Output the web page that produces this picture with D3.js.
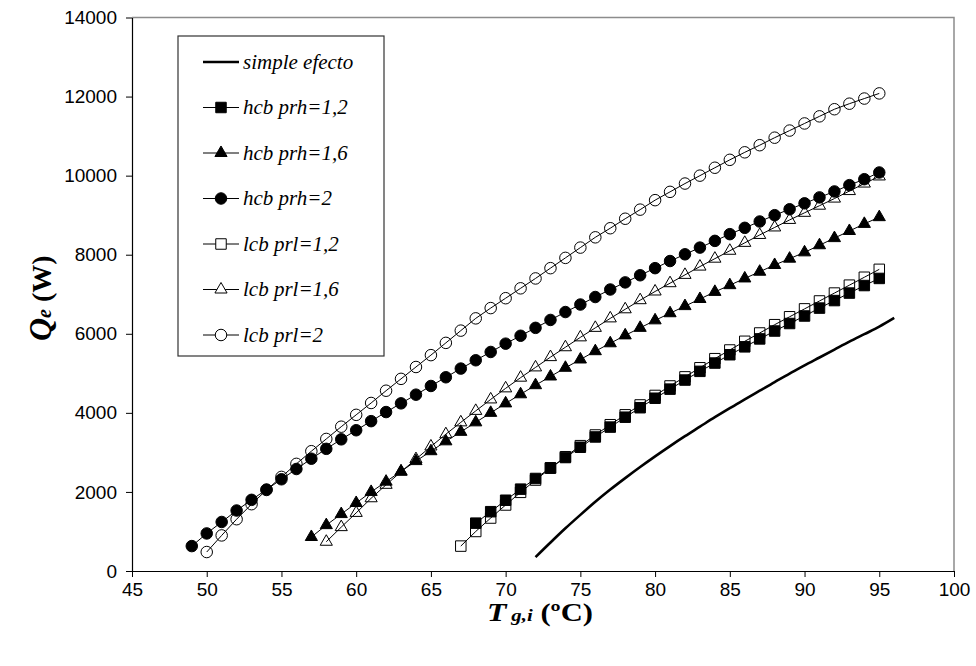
<!DOCTYPE html>
<html>
<head>
<meta charset="utf-8">
<script src="https://cdn.jsdelivr.net/npm/d3@7"></script>
<style>
  html, body { margin: 0; padding: 0; background: #fff; }
  svg { display: block; }
  .tick text { font-family: "Liberation Sans", Arial, sans-serif; font-size: 19px; fill: #000; }
</style>
</head>
<body>
<div id="chart"></div>
<script>
// x axis ticks / y axis ticks
const xTicks = [45, 50, 55, 60, 65, 70, 75, 80, 85, 90, 95, 100];
const yTicks = [0, 2000, 4000, 6000, 8000, 10000, 12000, 14000];

// simple efecto (line only)
const simpleT = [72, 73, 74, 75, 76, 77, 78, 79, 80, 81, 82, 83, 84, 85, 86, 87, 88, 89, 90, 91, 92, 93, 94, 95, 96];
const simpleQ = [350, 720, 1080, 1420, 1750, 2060, 2350, 2630, 2900, 3160, 3410, 3650, 3890, 4120, 4340, 4560, 4780, 4990, 5200, 5400, 5600, 5800, 5990, 6180, 6400];

// hcb prh=1,2
const hcb12T = [68, 69, 70, 71, 72, 73, 74, 75, 76, 77, 78, 79, 80, 81, 82, 83, 84, 85, 86, 87, 88, 89, 90, 91, 92, 93, 94, 95];
const hcb12Q = [1210, 1500, 1790, 2070, 2340, 2610, 2870, 3130, 3390, 3640, 3890, 4130, 4370, 4600, 4830, 5050, 5260, 5470, 5670, 5870, 6070, 6260, 6450, 6650, 6840, 7030, 7220, 7400];

// hcb prh=1,6
const hcb16T = [57, 58, 59, 60, 61, 62, 63, 64, 65, 66, 67, 68, 69, 70, 71, 72, 73, 74, 75, 76, 77, 78, 79, 80, 81, 82, 83, 84, 85, 86, 87, 88, 89, 90, 91, 92, 93, 94, 95];
const hcb16Q = [860, 1160, 1440, 1720, 2000, 2260, 2520, 2780, 3030, 3280, 3520, 3760, 4000, 4240, 4470, 4700, 4920, 5140, 5350, 5560, 5760, 5960, 6150, 6340, 6520, 6700, 6880, 7060, 7230, 7400, 7570, 7740, 7900, 8060, 8240, 8420, 8600, 8780, 8950];

// hcb prh=2
const hcb2T = [49, 50, 51, 52, 53, 54, 55, 56, 57, 58, 59, 60, 61, 62, 63, 64, 65, 66, 67, 68, 69, 70, 71, 72, 73, 74, 75, 76, 77, 78, 79, 80, 81, 82, 83, 84, 85, 86, 87, 88, 89, 90, 91, 92, 93, 94, 95];
const hcb2Q = [630, 950, 1240, 1530, 1800, 2060, 2320, 2580, 2840, 3090, 3330, 3560, 3790, 4020, 4240, 4460, 4680, 4900, 5120, 5330, 5540, 5750, 5950, 6150, 6350, 6550, 6740, 6930, 7120, 7300, 7480, 7660, 7840, 8010, 8180, 8350, 8520, 8680, 8840, 9000, 9150, 9300, 9450, 9600, 9760, 9910, 10080];

// lcb prl=1,2
const lcb12T = [67, 68, 69, 70, 71, 72, 73, 74, 75, 76, 77, 78, 79, 80, 81, 82, 83, 84, 85, 86, 87, 88, 89, 90, 91, 92, 93, 94, 95];
const lcb12Q = [630, 1000, 1340, 1670, 1990, 2300, 2600, 2890, 3170, 3440, 3700, 3950, 4200, 4440, 4680, 4910, 5140, 5370, 5590, 5810, 6020, 6230, 6430, 6630, 6830, 7030, 7230, 7430, 7630];

// lcb prl=1,6
const lcb16T = [58, 59, 60, 61, 62, 63, 64, 65, 66, 67, 68, 69, 70, 71, 72, 73, 74, 75, 76, 77, 78, 79, 80, 81, 82, 83, 84, 85, 86, 87, 88, 89, 90, 91, 92, 93, 94, 95];
const lcb16Q = [740, 1110, 1470, 1840, 2180, 2510, 2830, 3150, 3460, 3760, 4050, 4340, 4620, 4890, 5150, 5410, 5660, 5910, 6150, 6390, 6620, 6850, 7070, 7280, 7490, 7700, 7900, 8100, 8300, 8500, 8690, 8880, 9060, 9240, 9420, 9610, 9800, 9980];

// lcb prl=2
const lcb2T = [50, 51, 52, 53, 54, 55, 56, 57, 58, 59, 60, 61, 62, 63, 64, 65, 66, 67, 68, 69, 70, 71, 72, 73, 74, 75, 76, 77, 78, 79, 80, 81, 82, 83, 84, 85, 86, 87, 88, 89, 90, 91, 92, 93, 94, 95];
const lcb2Q = [480, 900, 1310, 1690, 2050, 2380, 2710, 3030, 3340, 3650, 3950, 4250, 4560, 4860, 5160, 5460, 5770, 6080, 6390, 6650, 6900, 7150, 7400, 7660, 7920, 8180, 8440, 8670, 8910, 9140, 9380, 9590, 9800, 10000, 10200, 10400, 10590, 10770, 10960, 11140, 11320, 11500, 11680, 11820, 11950, 12080];

const seriesNames = ['simple efecto', 'hcb prh=1,2', 'hcb prh=1,6', 'hcb prh=2', 'lcb prl=1,2', 'lcb prl=1,6', 'lcb prl=2'];

const series = [
  { name: seriesNames[0], t: simpleT, q: simpleQ, marker: null, filled: false },
  { name: seriesNames[1], t: hcb12T, q: hcb12Q, marker: 'square', filled: true },
  { name: seriesNames[2], t: hcb16T, q: hcb16Q, marker: 'triangle', filled: true },
  { name: seriesNames[3], t: hcb2T, q: hcb2Q, marker: 'circle', filled: true },
  { name: seriesNames[4], t: lcb12T, q: lcb12Q, marker: 'square', filled: false },
  { name: seriesNames[5], t: lcb16T, q: lcb16Q, marker: 'triangle', filled: false },
  { name: seriesNames[6], t: lcb2T, q: lcb2Q, marker: 'circle', filled: false }
];

const W = 976, H = 666;
const plotL = 132, plotR = 954, plotT = 17.5, plotB = 571;

const svg = d3.select('#chart').append('svg')
  .attr('width', W)
  .attr('height', H)
  .attr('viewBox', `0 0 ${W} ${H}`);

const x = d3.scaleLinear().domain([45, 100]).range([plotL, plotR]);
const y = d3.scaleLinear().domain([0, 14000]).range([plotB, plotT]);

// plot area frame (gray top/right)
svg.append('path')
  .attr('d', `M${plotL},${plotT}H${plotR}V${plotB}`)
  .attr('fill', 'none')
  .attr('stroke', '#8c8c8c')
  .attr('stroke-width', 1.5);

// axes
const xAxis = svg.append('g')
  .attr('transform', `translate(0,${plotB})`)
  .call(d3.axisBottom(x).tickValues(xTicks).tickFormat(d3.format('d'))
    .tickSizeInner(6).tickSizeOuter(0).tickPadding(8));
const yAxis = svg.append('g')
  .attr('transform', `translate(${plotL},0)`)
  .call(d3.axisLeft(y).tickValues(yTicks).tickFormat(d3.format('d'))
    .tickSizeInner(6).tickSizeOuter(0).tickPadding(9));
[xAxis, yAxis].forEach(a => {
  a.select('.domain').attr('stroke', '#000').attr('stroke-width', 1.2);
  a.selectAll('.tick line').attr('stroke', '#000');
});
xAxis.selectAll('.tick text').attr('dy', '0.6em');

// marker shapes
const symbolFor = {
  square: d3.symbol().type(d3.symbolSquare).size(110),
  circle: d3.symbol().type(d3.symbolCircle).size(104),
  triangle: d3.symbol().type(d3.symbolTriangle).size(64)
};

const straight = d3.line().x(d => x(d[0])).y(d => y(d[1]));
const smooth = d3.line().x(d => x(d[0])).y(d => y(d[1])).curve(d3.curveMonotoneX);

// draw series
series.forEach(s => {
  const pts = s.t.map((t, i) => [t, s.q[i]]);
  const g = svg.append('g');
  g.append('path')
    .datum(pts)
    .attr('d', s.marker ? straight : smooth)
    .attr('fill', 'none')
    .attr('stroke', '#000')
    .attr('stroke-width', s.marker ? 1 : 2.6);
  if (s.marker) {
    g.selectAll('path.mk')
      .data(pts)
      .enter().append('path')
      .attr('class', 'mk')
      .attr('transform', d => `translate(${x(d[0])},${y(d[1])})`)
      .attr('d', symbolFor[s.marker]())
      .attr('fill', s.filled ? '#000' : 'none')
      .attr('stroke', '#000')
      .attr('stroke-width', 1);
  }
});

// legend
const legX = 178, legY = 36, legW = 206, legH = 320;
const legend = svg.append('g');
legend.append('rect')
  .attr('x', legX).attr('y', legY)
  .attr('width', legW).attr('height', legH)
  .attr('fill', '#fff')
  .attr('stroke', '#333')
  .attr('stroke-width', 1.2);

const legRow = d3.scalePoint().domain(seriesNames).range([62, 335]);
series.forEach(s => {
  const ry = legRow(s.name);
  const row = legend.append('g').attr('transform', `translate(0,${ry})`);
  row.append('line')
    .attr('x1', 203).attr('x2', 239)
    .attr('y1', 0).attr('y2', 0)
    .attr('stroke', '#000')
    .attr('stroke-width', s.marker ? 1 : 2.6);
  if (s.marker) {
    row.append('path')
      .attr('transform', 'translate(221,0)')
      .attr('d', symbolFor[s.marker]())
      .attr('fill', s.filled ? '#000' : '#fff')
      .attr('stroke', '#000');
  }
  row.append('text')
    .attr('x', 243).attr('y', 0).attr('dy', '0.33em')
    .style('font-family', '"Liberation Serif", "Times New Roman", serif')
    .style('font-style', 'italic')
    .style('font-size', '21px')
    .text(s.name);
});

// axis titles
const xTitle = svg.append('text')
  .attr('x', 540)
  .attr('y', 621)
  .attr('text-anchor', 'middle')
  .attr('textLength', 106)
  .attr('lengthAdjust', 'spacingAndGlyphs')
  .style('font-family', '"Liberation Serif", "Times New Roman", serif')
  .style('font-weight', 'bold');
xTitle.append('tspan').style('font-style', 'italic').style('font-size', '26px').text('T');
xTitle.append('tspan').style('font-style', 'italic').style('font-size', '17px').attr('dx', 4).text('g,i');
xTitle.append('tspan').style('font-size', '25px').text(' (ºC)');

const yTitle = svg.append('text')
  .attr('transform', `translate(51,${(plotT + plotB) / 2 + 4}) rotate(-90)`)
  .attr('text-anchor', 'middle')
  .style('font-family', '"Liberation Serif", "Times New Roman", serif')
  .style('font-weight', 'bold');
yTitle.append('tspan').style('font-style', 'italic').style('font-size', '32px').text('Q');
yTitle.append('tspan').style('font-style', 'italic').style('font-size', '20px').text('e');
yTitle.append('tspan').style('font-size', '28px').text(' (W)');
</script>
</body>
</html>
